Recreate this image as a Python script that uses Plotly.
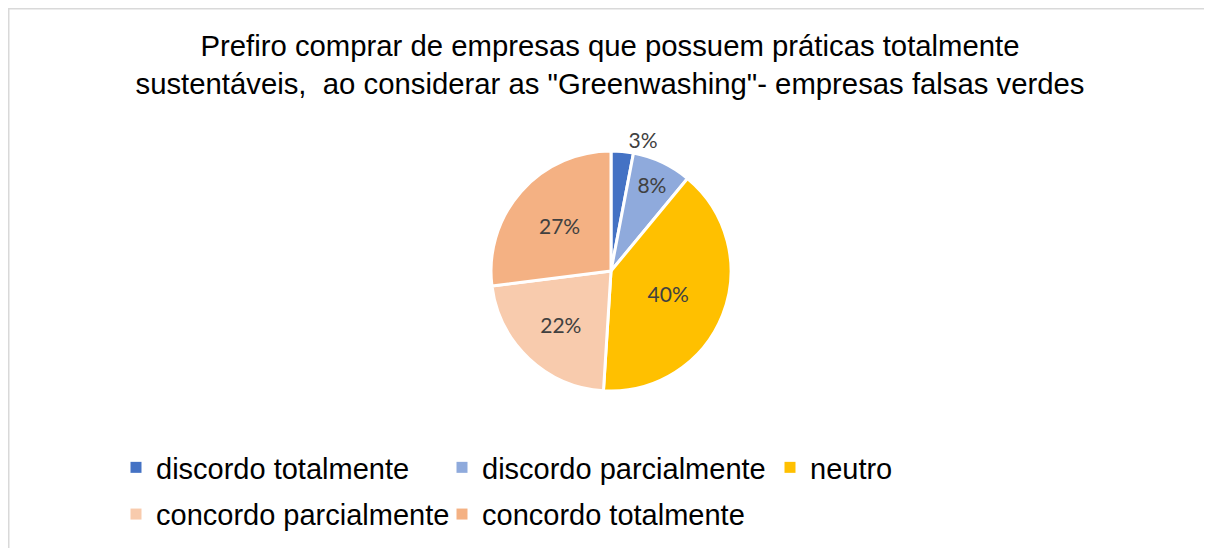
import plotly.graph_objects as go

# survey answers and share of respondents (%)
labels = ['discordo totalmente', 'discordo parcialmente', 'neutro',
          'concordo parcialmente', 'concordo totalmente']
values = [3, 8, 40, 22, 27]
colors = ['#4472C4', '#8FAADC', '#FFC000', '#F8CBAD', '#F4B183']
text_pos = ['outside', 'inside', 'inside', 'inside', 'inside']
# legend column each answer sits in (Excel-like grid: 3 columns, 2 rows)
legend_cols = ['legend', 'legend2', 'legend3', 'legend', 'legend2']

title = ('Prefiro comprar de empresas que possuem práticas totalmente<br>'
         'sustentáveis, \u00a0ao considerar as "Greenwashing"- empresas falsas verdes')

# page has an 8px body margin, so the figure is 8px smaller than the window
PAGE_OFF = 8
W, H = 1204, 540


def px_x(p):
    return (p - PAGE_OFF) / W


def px_y(p):
    return 1 - (p - PAGE_OFF) / H


fig = go.Figure()

fig.add_trace(go.Pie(
    labels=labels,
    values=values,
    sort=False,
    direction='clockwise',
    rotation=0,
    marker=dict(colors=colors, line=dict(color='white', width=3)),
    texttemplate='%{percent:.0%}',
    textposition=text_pos,
    textfont=dict(family='Lato', size=21, color='#404040'),
    insidetextorientation='horizontal',
    domain=dict(x=[px_x(491), px_x(731)], y=[px_y(391), px_y(151)]),
    hoverinfo='label+percent',
    showlegend=False,
))

# legend entries (the pie itself keeps no legend so the columns can be laid out)
for lab, col, lg in zip(labels, colors, legend_cols):
    fig.add_trace(go.Scatter(
        x=[None], y=[None],
        mode='markers',
        name=lab,
        legendgroup=lab,
        legend=lg,
        marker=dict(symbol='square', size=11, color=col, line=dict(width=0)),
        hoverinfo='skip',
    ))

legend_font = dict(family='Liberation Sans', size=29, color='#000000')
legend_common = dict(
    orientation='v',
    yanchor='top',
    y=px_y(442),
    xanchor='left',
    itemwidth=30,
    font=legend_font,
    tracegroupgap=6,
    bgcolor='rgba(0,0,0,0)',
)

fig.update_layout(
    width=W,
    height=H,
    margin={'l': 0, 'r': 0, 't': 0, 'b': 0},
    paper_bgcolor='white',
    plot_bgcolor='white',
    xaxis=dict(visible=False),
    yaxis=dict(visible=False),
    title=dict(
        text=title,
        x=0.5,
        xanchor='center',
        y=px_y(55.5),
        yanchor='middle',
        font=dict(family='Liberation Sans', size=29.3, color='#000000'),
    ),
    showlegend=True,
    legend=dict(x=px_x(116), **legend_common),
    legend2=dict(x=px_x(442), **legend_common),
    legend3=dict(x=px_x(770), **legend_common),
    shapes=[dict(
        type='rect', xref='paper', yref='paper',
        x0=0.5 / W, x1=1.05, y0=-0.05, y1=1 - 0.5 / H,
        line=dict(color='#D9D9D9', width=2),
        fillcolor='rgba(0,0,0,0)',
        layer='below',
    )],
)

fig.write_html('out.html')
